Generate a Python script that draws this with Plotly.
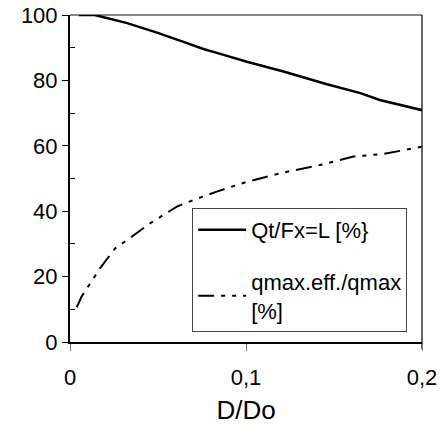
import plotly.graph_objects as go

# D/Do values and the two ratios in percent
qt_x = [0.005, 0.014, 0.032, 0.049, 0.0645, 0.0758, 0.083, 0.1005, 0.1213, 0.146, 0.165, 0.176, 0.2]
qt_y = [100, 100, 97.6, 94.7, 91.8, 89.6, 88.5, 85.7, 82.7, 78.8, 76.1, 74.0, 70.9]

qm_x = [0.0038, 0.0066, 0.017, 0.0256, 0.033, 0.0455, 0.053, 0.0607, 0.070, 0.0834,
        0.1005, 0.121, 0.142, 0.161, 0.178, 0.2]
qm_y = [10.6, 13.9, 22.5, 28.6, 31.4, 36.3, 38.8, 41.4, 43.4, 46.0,
        49.0, 51.8, 54.1, 56.7, 57.5, 59.7]

x_ticks = [0, 0.1, 0.2]
y_ticks = [0, 20, 40, 60, 80, 100]

FONT = "Arial, Liberation Sans, sans-serif"

fig = go.Figure()
fig.add_trace(go.Scatter(
    x=qt_x, y=qt_y, mode="lines", name="Qt/Fx=L [%}",
    line=dict(color="black", width=2.5), legendgroup="a",
))
fig.add_trace(go.Scatter(
    x=qm_x, y=qm_y, mode="lines", name="qmax.eff./qmax<br>[%]",
    line=dict(color="black", width=2, dash="16px,7px,4px,7px,4px,7px"),
    legendgroup="b",
))

fig.update_layout(
    width=441, height=425,
    margin=dict(l=70, r=19, t=15, b=83),
    paper_bgcolor="white", plot_bgcolor="white",
    separators=", ",
    font=dict(family=FONT, size=22, color="black"),
    showlegend=True,
    legend=dict(
        x=0.347, y=0.41, xanchor="left", yanchor="top",
        bordercolor="#444", borderwidth=1, bgcolor="white",
        font=dict(size=22), tracegroupgap=20, itemwidth=48,
    ),
    xaxis=dict(
        range=[0, 0.2], tickvals=x_ticks, ticktext=["0", "0,1", "0,2"],
        showgrid=False, zeroline=False, automargin=False,
        showline=True, linecolor="black", linewidth=1.5,
        ticks="outside", ticklen=7, tickcolor="#777", tickwidth=1,
        ticklabelstandoff=8,
        title=dict(text="D/Do", standoff=12),
    ),
    yaxis=dict(
        range=[0, 100], tickvals=y_ticks,
        showgrid=False, zeroline=False, automargin=False,
        showline=True, linecolor="black", linewidth=2,
        ticks="outside", ticklen=6, tickcolor="black", tickwidth=1,
        minor=dict(tickvals=[10, 30, 50, 70, 90], ticks="inside",
                   ticklen=5, tickcolor="black", tickwidth=1),
    ),
    shapes=[
        # top frame edge in grey
        dict(type="line", xref="paper", yref="paper", x0=0, x1=1, y0=1, y1=1,
             line=dict(color="#888", width=2), layer="below"),
        # right frame edge, running a little below the axis
        dict(type="line", xref="paper", yref="paper", x0=1, x1=1, y0=-0.022, y1=1,
             line=dict(color="black", width=1.2), layer="below"),
    ],
)

fig.write_html("out.html")
